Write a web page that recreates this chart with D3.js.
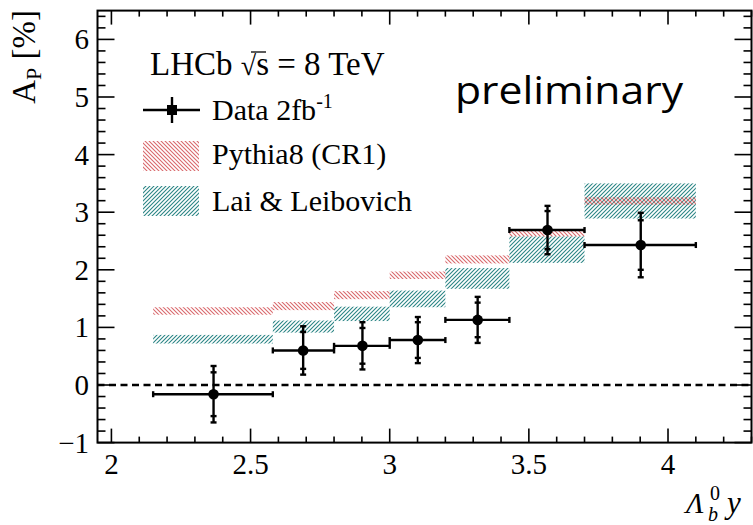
<!DOCTYPE html>
<html><head><meta charset="utf-8">
<script src="https://cdn.jsdelivr.net/npm/d3@7"></script>
<style>
html,body{margin:0;padding:0;background:#fff;}
svg{display:block;}
</style></head>
<body>
<svg id="c" width="753" height="525"></svg>
<script>
// ---- data ----
const binLo    = [2.15, 2.58, 2.80, 3.00, 3.20, 3.43, 3.70];
const binHi    = [2.58, 2.80, 3.00, 3.20, 3.43, 3.70, 4.10];
const dataX    = [2.367, 2.689, 2.902, 3.101, 3.316, 3.567, 3.902];
const dataY    = [-0.16, 0.60, 0.68, 0.78, 1.13, 2.69, 2.43];
const errTot   = [0.49, 0.42, 0.41, 0.40, 0.40, 0.42, 0.56];
const errStat  = [0.38, 0.32, 0.31, 0.31, 0.30, 0.33, 0.43];
const pythiaLo = [1.22, 1.30, 1.49, 1.84, 2.11, 2.58, 3.13];
const pythiaHi = [1.35, 1.44, 1.63, 1.97, 2.25, 2.69, 3.26];
const laiLo    = [0.72, 0.91, 1.11, 1.35, 1.67, 2.12, 2.89];
const laiHi    = [0.87, 1.12, 1.36, 1.64, 2.03, 2.58, 3.50];
const xTicks   = [2, 2.5, 3, 3.5, 4];
const yTicks   = [-1, 0, 1, 2, 3, 4, 5, 6];

const SERIF = "'Liberation Serif'";
const svg = d3.select("#c");
const L = 97.5, R = 751.5, T = 10.6, B = 442.6;
const x = d3.scaleLinear().domain([1.95, 4.3]).range([L, R]);
const y = d3.scaleLinear().domain([-1, 6.5]).range([B, T]);

function txt(px, py, s, size, extra) {
  const t = svg.append("text").attr("x", px).attr("y", py).attr("font-size", size)
    .style("font-family", SERIF).attr("fill", "#000").text(s);
  if (extra) extra(t);
  return t;
}

const defs = svg.append("defs");
function hatch(id, color, dir) {
  const p = defs.append("pattern").attr("id", id).attr("patternUnits", "userSpaceOnUse")
    .attr("width", 4).attr("height", 4);
  const d = dir === "/" ? "M-1,1 L1,-1 M0,4 L4,0 M3,5 L5,3" : "M-1,3 L1,5 M0,0 L4,4 M3,-1 L5,1";
  p.append("path").attr("d", d).attr("stroke", color).attr("stroke-width", 1.1).attr("fill", "none");
}
hatch("hLai", "#2b8585", "/");
hatch("hPy", "#d9686c", "\\");

const idx = d3.range(binLo.length);
// model bands
svg.append("g").selectAll("rect").data(idx).join("rect")
  .attr("x", i => x(binLo[i])).attr("width", i => x(binHi[i]) - x(binLo[i]))
  .attr("y", i => y(laiHi[i])).attr("height", i => y(laiLo[i]) - y(laiHi[i]))
  .attr("fill", "url(#hLai)");
svg.append("g").selectAll("rect").data(idx).join("rect")
  .attr("x", i => x(binLo[i])).attr("width", i => x(binHi[i]) - x(binLo[i]))
  .attr("y", i => y(pythiaHi[i])).attr("height", i => y(pythiaLo[i]) - y(pythiaHi[i]))
  .attr("fill", "url(#hPy)");

// zero line
svg.append("line").attr("x1", L).attr("x2", R).attr("y1", y(0)).attr("y2", y(0))
  .attr("stroke", "#000").attr("stroke-width", 2.6).attr("stroke-dasharray", "7,4.5");

// data
const g = svg.append("g").attr("stroke", "#000").attr("stroke-width", 2.4);
idx.forEach(i => {
  const cx = x(dataX[i]), cy = y(dataY[i]);
  g.append("line").attr("x1", x(binLo[i])).attr("x2", x(binHi[i])).attr("y1", cy).attr("y2", cy);
  g.append("line").attr("x1", x(binLo[i])).attr("x2", x(binLo[i])).attr("y1", cy - 3).attr("y2", cy + 3);
  g.append("line").attr("x1", x(binHi[i])).attr("x2", x(binHi[i])).attr("y1", cy - 3).attr("y2", cy + 3);
  g.append("line").attr("x1", cx).attr("x2", cx).attr("y1", y(dataY[i] + errTot[i])).attr("y2", y(dataY[i] - errTot[i]));
  [errTot[i], -errTot[i], errStat[i], -errStat[i]].forEach(e => {
    g.append("line").attr("x1", cx - 3).attr("x2", cx + 3).attr("y1", y(dataY[i] + e)).attr("y2", y(dataY[i] + e));
  });
  svg.append("circle").attr("cx", cx).attr("cy", cy).attr("r", 5.3).attr("fill", "#000");
});

// frame and ticks
const ax = svg.append("g").attr("stroke", "#000").attr("stroke-width", 1.6);
ax.append("rect").attr("x", L).attr("y", T).attr("width", R - L).attr("height", B - T).attr("fill", "none").attr("stroke-width", 2);
const xMinor = d3.range(20, 44).map(v => v / 10);
xMinor.forEach(v => {
  const major = xTicks.some(t => Math.abs(t - v) < 1e-6);
  const len = major ? 14 : 6;
  ax.append("line").attr("x1", x(v)).attr("x2", x(v)).attr("y1", B).attr("y2", B - len);
  ax.append("line").attr("x1", x(v)).attr("x2", x(v)).attr("y1", T).attr("y2", T + len);
});
const yMinor = d3.range(-5, 33).map(v => v / 5);
yMinor.forEach(v => {
  const major = yTicks.some(t => Math.abs(t - v) < 1e-6);
  const len = major ? 17 : 8;
  ax.append("line").attr("x1", L).attr("x2", L + len).attr("y1", y(v)).attr("y2", y(v));
  ax.append("line").attr("x1", R).attr("x2", R - len).attr("y1", y(v)).attr("y2", y(v));
});

// tick labels
xTicks.forEach(d => txt(x(d), 474, String(d), 29, t => t.attr("text-anchor", "middle")));
yTicks.forEach(d => txt(89, y(d) + 10, d < 0 ? "\u2212" + Math.abs(d) : String(d), 29, t => t.attr("text-anchor", "end")));

// axis titles
const yl = svg.append("text").attr("transform", "translate(35,10) rotate(-90)")
  .attr("text-anchor", "end").attr("font-size", 33).style("font-family", SERIF);
yl.append("tspan").text("A");
yl.append("tspan").attr("font-size", 22).attr("dy", 6).text("P");
yl.append("tspan").attr("dy", -6).text(" [%]");

txt(686, 513, "\u039B", 29, t => t.attr("font-style", "italic"));
txt(708, 521, "b", 20, t => t.attr("font-style", "italic"));
txt(710, 500, "0", 20);
txt(727, 513, "y", 31, t => t.attr("font-style", "italic"));

// legend header
const hdr = txt(150, 75, "", 33);
hdr.append("tspan").text("LHCb ");
hdr.append("tspan").attr("font-size", 28).text("\u221A");
hdr.append("tspan").text("s = 8 TeV");
svg.append("line").attr("x1", 251).attr("x2", 266).attr("y1", 52).attr("y2", 52).attr("stroke", "#000").attr("stroke-width", 1.3);

const lg = svg.append("g").attr("stroke", "#000").attr("stroke-width", 2.4);
lg.append("line").attr("x1", 143).attr("x2", 200).attr("y1", 110).attr("y2", 110);
lg.append("line").attr("x1", 172).attr("x2", 172).attr("y1", 97).attr("y2", 123);
svg.append("rect").attr("x", 167).attr("y", 105).attr("width", 10).attr("height", 10).attr("fill", "#000");
const dt = txt(212, 120, "", 30);
dt.append("tspan").text("Data 2fb");
dt.append("tspan").attr("font-size", 20).attr("dy", -12).text("-1");
svg.append("rect").attr("x", 143).attr("y", 141).attr("width", 56).attr("height", 30).attr("fill", "url(#hPy)");
txt(212, 164, "Pythia8 (CR1)", 30);
svg.append("rect").attr("x", 143).attr("y", 186).attr("width", 56).attr("height", 30).attr("fill", "url(#hLai)");
txt(212, 211, "Lai & Leibovich", 30);

svg.append("text").attr("x", 455).attr("y", 104).attr("font-size", 38)
  .style("font-family", "'Open Sans'").attr("fill", "#000")
  .attr("textLength", 228).attr("lengthAdjust", "spacingAndGlyphs").text("preliminary");
</script>
</body></html>
